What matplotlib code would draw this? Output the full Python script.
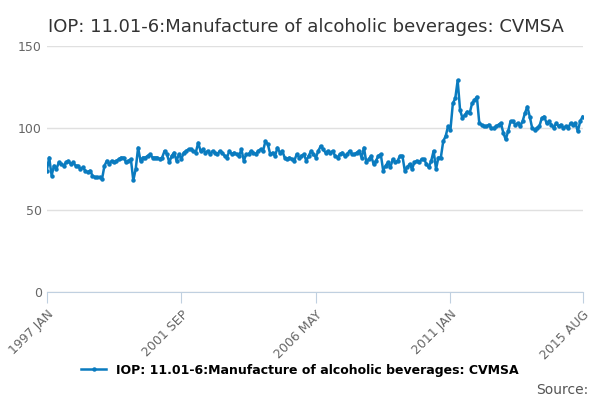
import matplotlib
matplotlib.use("Agg")
import matplotlib.pyplot as plt
import numpy as np

values = [
74,82,71,77,75,79,78,77,79,80,78,79,
77,77,75,76,74,73,74,71,70,70,70,69,
77,80,78,80,79,80,81,82,82,79,80,81,
68,75,88,80,82,82,83,84,82,82,82,81,
82,86,84,79,83,85,80,84,81,85,86,87,
87,86,85,91,86,87,85,86,84,86,85,84,
86,85,83,82,86,84,85,84,83,87,80,84,
84,86,85,84,86,87,86,92,90,84,85,83,
88,85,86,82,81,82,81,80,84,82,83,84,
80,83,86,84,82,86,89,87,85,86,85,86,
83,82,84,85,83,84,86,84,84,85,86,82,
88,79,81,83,78,80,83,84,74,77,79,76,
81,79,80,83,83,74,76,78,75,79,80,79,
81,81,78,76,80,86,75,82,82,92,95,101,
99,115,118,129,111,106,108,110,109,115,117,119,
103,102,101,101,102,100,100,101,102,103,97,93,
98,104,104,102,103,101,104,109,113,107,100,99,
100,101,106,107,103,104,102,100,103,101,102,100,
101,100,103,102,103,98,104,107,
]
tick_pos = [0, 56, 112, 168, 223]
tick_labels = ["1997 JAN", "2001 SEP", "2006 MAY", "2011 JAN", "2015 AUG"]
title = "IOP: 11.01-6:Manufacture of alcoholic beverages: CVMSA"
color = "#0a7bbf"

fig = plt.figure(figsize=(6, 4), dpi=100)
ax = fig.add_axes([0.078, 0.27, 0.893, 0.615])
x = np.arange(len(values))
ax.plot(x, values, color=color, lw=1.8, marker="o", ms=2.2, label=title)
ax.set_xlim(0, len(values) - 1)
ax.set_ylim(0, 150)
ax.set_yticks([0, 50, 100, 150])
ax.yaxis.grid(True, color="#e0e0e0", lw=1)
ax.set_axisbelow(True)
for s in ["top", "right", "left"]:
    ax.spines[s].set_visible(False)
ax.spines["bottom"].set_color("#c0d0e0")
ax.tick_params(axis="y", length=0, labelcolor="#666666", labelsize=9)
ax.set_xticks(tick_pos)
ax.set_xticklabels(tick_labels, rotation=45, ha="right", rotation_mode="anchor",
                   color="#666666", fontsize=9)
ax.tick_params(axis="x", color="#c0d0e0", length=8)
fig.text(0.08, 0.955, title, fontsize=13, color="#333333", va="top")
fig.legend(loc="lower center", bbox_to_anchor=(0.5, 0.03), frameon=False,
           prop={"weight": "bold", "size": 9}, handlelength=2)
fig.text(0.98, 0.015, "Source:", ha="right", fontsize=10, color="#555555")
fig.savefig("out.png")
